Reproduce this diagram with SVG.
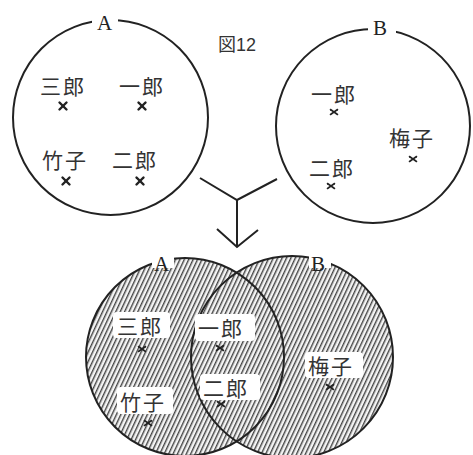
<svg xmlns="http://www.w3.org/2000/svg" width="473" height="455" viewBox="0 0 473 455">
<style>
.c{fill:none;stroke:#222;stroke-width:2}
.lbl{font-family:"Noto Sans CJK JP","Noto Sans CJK SC",sans-serif;font-size:21px;fill:#333;letter-spacing:2px}
.ab{font-family:"Liberation Serif",serif;font-size:21px;fill:#222}
.x{stroke:#222;stroke-width:2.4;stroke-linecap:round}
.xs{stroke:#222;stroke-width:1.6;stroke-linecap:round}
.bg{fill:#fff}
.con{fill:none;stroke:#222;stroke-width:2}
</style>
<defs>
<pattern id="hatch" patternUnits="userSpaceOnUse" width="4" height="4" patternTransform="rotate(25)">
<rect width="4" height="4" fill="#f4f4f4"/>
<rect x="0" y="0" width="1.4" height="4" fill="#444"/>
</pattern>
<g id="xm"><line class="x" x1="-3.5" y1="-3.5" x2="3.5" y2="3.5"/><line class="x" x1="3.5" y1="-3.5" x2="-3.5" y2="3.5"/></g>
<g id="xt"><line class="xs" x1="-3.5" y1="-2.5" x2="3.5" y2="2.5"/><line class="xs" x1="3.5" y1="-2.5" x2="-3.5" y2="2.5"/></g>
</defs>
<rect width="473" height="455" fill="#fff"/>
<text x="218" y="51" font-family="'Noto Sans CJK JP',sans-serif" font-size="18" fill="#333">図<tspan font-family="'Liberation Sans',sans-serif">12</tspan></text>

<g id="setA">
<circle class="c" cx="110.5" cy="117.5" r="97.5"/>
<rect class="bg" x="92" y="12" width="26" height="20"/>
<text class="ab" x="97" y="30">A</text>
<text class="lbl" x="40" y="94">三郎</text><use href="#xm" x="63" y="106"/>
<text class="lbl" x="119" y="94">一郎</text><use href="#xm" x="142" y="106"/>
<text class="lbl" x="42" y="168">竹子</text><use href="#xm" x="66" y="181"/>
<text class="lbl" x="112" y="168">二郎</text><use href="#xm" x="140" y="181"/>
</g>

<g id="setB">
<circle class="c" cx="373" cy="126" r="97"/>
<rect class="bg" x="368" y="18" width="28" height="20"/>
<text class="ab" x="373" y="35">B</text>
<text class="lbl" x="311" y="102">一郎</text><use href="#xt" x="334" y="112"/>
<text class="lbl" x="389" y="146">梅子</text><use href="#xt" x="413" y="159"/>
<text class="lbl" x="309" y="176">二郎</text><use href="#xt" x="331" y="186"/>
</g>

<g id="connectors">
<path class="con" d="M200 178 L237 200 L277 179 M237 200 L237 247 M217 229 L237 247 L258 230"/>
</g>

<g id="union">
<circle cx="185" cy="357" r="99" fill="url(#hatch)"/>
<circle cx="292" cy="357" r="101" fill="url(#hatch)"/>
<circle class="c" cx="185" cy="357" r="99"/>
<circle class="c" cx="292" cy="357" r="101"/>
<rect class="bg" x="152" y="248" width="22" height="20"/>
<text class="ab" x="154" y="271">A</text>
<rect class="bg" x="309" y="248" width="22" height="20"/>
<text class="ab" x="311" y="271">B</text>
<rect class="bg" x="113" y="312" width="57" height="26" rx="4"/>
<text class="lbl" x="117" y="334">三郎</text><use href="#xt" x="142" y="349"/>
<rect class="bg" x="195" y="314" width="60" height="27" rx="4"/>
<text class="lbl" x="198" y="336">一郎</text><use href="#xt" x="220" y="348"/>
<rect class="bg" x="200" y="374" width="60" height="26" rx="4"/>
<text class="lbl" x="203" y="396">二郎</text><use href="#xt" x="221" y="404"/>
<rect class="bg" x="117" y="387" width="56" height="27" rx="4"/>
<text class="lbl" x="120" y="410">竹子</text><use href="#xt" x="148" y="423"/>
<rect class="bg" x="305" y="352" width="58" height="26" rx="4"/>
<text class="lbl" x="308" y="374">梅子</text><use href="#xt" x="330" y="387"/>
</g>
</svg>
